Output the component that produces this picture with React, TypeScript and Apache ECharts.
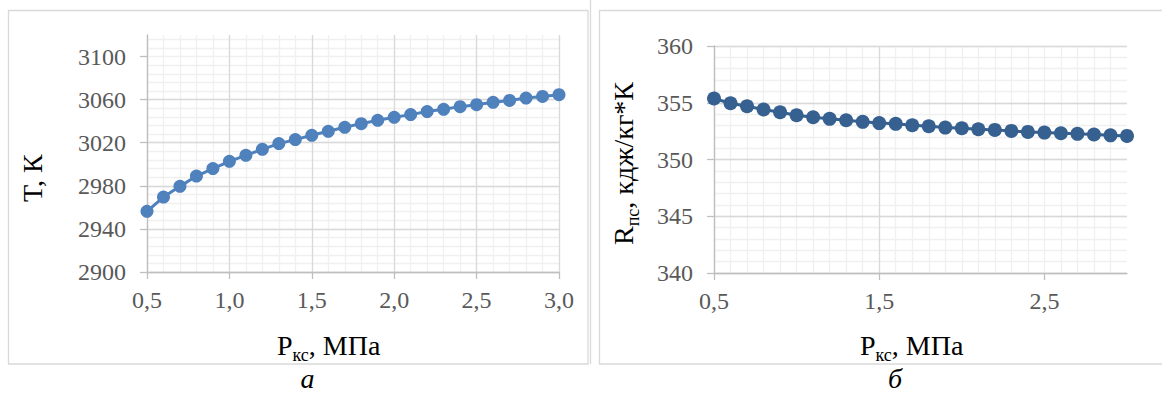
import React, { useEffect, useRef } from "react";
import * as echarts from "echarts";

// ---- data ----
const pressure = [0.5, 0.6, 0.7, 0.8, 0.9, 1.0, 1.1, 1.2, 1.3, 1.4, 1.5, 1.6, 1.7, 1.8, 1.9, 2.0, 2.1, 2.2, 2.3, 2.4, 2.5, 2.6, 2.7, 2.8, 2.9, 3.0];
const temperature = [2956.3, 2969.6, 2979.5, 2989.1, 2996.0, 3002.7, 3008.3, 3013.9, 3019.2, 3022.9, 3026.9, 3030.6, 3034.3, 3037.7, 3040.8, 3043.6, 3046.1, 3048.9, 3051.0, 3053.5, 3055.3, 3057.5, 3059.3, 3061.5, 3063.0, 3064.6];
const gasConstant = [355.37, 354.96, 354.69, 354.40, 354.16, 353.90, 353.72, 353.58, 353.46, 353.32, 353.21, 353.14, 353.02, 352.93, 352.81, 352.75, 352.66, 352.61, 352.52, 352.43, 352.37, 352.31, 352.26, 352.20, 352.13, 352.08];

const tempTicks = [2900, 2940, 2980, 3020, 3060, 3100];
const pressureTicksA = [0.5, 1.0, 1.5, 2.0, 2.5, 3.0];
const pressureTicksB = [0.5, 1.5, 2.5];
const rTicks = [340, 345, 350, 355, 360];

const FONT = "Liberation Serif";
const LABEL_COLOR = "#595959";
const AXIS_COLOR = "#bfbfbf";
const MAJOR_GRID = "#d9d9d9";
const MINOR_GRID = "#f0f0f0";
const TITLE_SIZE = 28;
const SUB_SIZE = 18;
const SUB_SHIFT = 6;
const TICK_SIZE = 24;

const ctx = document.createElement("canvas").getContext("2d") as CanvasRenderingContext2D;
function tw(text: string, size: number, italic = false) {
  ctx.font = `${italic ? "italic " : ""}${size}px "Liberation Serif"`;
  return ctx.measureText(text).width;
}

function titleGroup(parts: { t: string; sub?: boolean }[], x0: number, y0: number, rotation: number) {
  let cx = 0;
  const children = parts.map((p) => {
    const size = p.sub ? SUB_SIZE : TITLE_SIZE;
    const shift = p.sub ? SUB_SHIFT : 0;
    const el = {
      type: "text",
      x: cx,
      y: shift - 0.3375 * size,
      style: {
        text: p.t,
        fontSize: size,
        fontFamily: FONT,
        fill: "#000",
        textAlign: "left",
        textVerticalAlign: "middle",
        align: "left",
        verticalAlign: "middle",
      },
    };
    cx += tw(p.t, size);
    return el;
  });
  return { type: "group", x: x0, y: y0, rotation, children };
}

const fmt = (v: number) => v.toFixed(1).replace(".", ",");

function mainX(gridIndex: number, interval: number, ticks: number[]) {
  return {
    type: "value",
    gridIndex,
    position: "bottom",
    offset: 0,
    min: 0.5,
    max: 3.0,
    interval,
    z: 2,
    axisLine: { show: true, onZero: false, lineStyle: { color: AXIS_COLOR, width: 1.3 } },
    axisTick: { show: true, length: 7, lineStyle: { color: AXIS_COLOR, width: 1.3 }, customValues: ticks },
    axisLabel: {
      color: LABEL_COLOR,
      fontSize: TICK_SIZE,
      fontFamily: FONT,
      margin: 16,
      customValues: ticks,
      formatter: (v: number) => (ticks.some((t) => Math.abs(t - v) < 1e-6) ? fmt(v) : ""),
    },
    splitLine: { show: true, showMaxLine: gridIndex === 0, lineStyle: { color: MAJOR_GRID, width: 1.3 } },
  };
}

function minorAxis(type: "x" | "y", gridIndex: number, min: number, max: number, interval: number, showMax: boolean) {
  return {
    type: "value",
    gridIndex,
    min,
    max,
    interval,
    z: 0,
    position: type === "x" ? "bottom" : "left",
    offset: 0,
    axisLine: { show: false, onZero: false },
    axisTick: { show: false },
    axisLabel: { show: false },
    splitLine: { show: true, showMaxLine: showMax, lineStyle: { color: MINOR_GRID, width: 1.3 } },
  };
}

function mainY(gridIndex: number, min: number, max: number, interval: number, ticks: number[], showMax: boolean) {
  return {
    type: "value",
    gridIndex,
    position: "left",
    offset: 0,
    min,
    max,
    interval,
    z: 2,
    axisLine: { show: true, onZero: false, lineStyle: { color: AXIS_COLOR, width: 1.3 } },
    axisTick: { show: true, length: 7, lineStyle: { color: AXIS_COLOR, width: 1.3 }, customValues: ticks },
    axisLabel: {
      color: LABEL_COLOR,
      fontSize: TICK_SIZE,
      fontFamily: FONT,
      margin: 21,
      customValues: ticks,
      formatter: (v: number) => (ticks.includes(v) ? String(v) : ""),
    },
    splitLine: { show: true, showMaxLine: showMax, lineStyle: { color: MAJOR_GRID, width: 1.3 } },
  };
}

export default function App() {
  const ref = useRef<HTMLDivElement>(null);
  useEffect(() => {
    if (!ref.current) return;
    const chart = echarts.init(ref.current, undefined, { renderer: "svg" });
    const option: any = {
      animation: false,
      backgroundColor: "#fff",
      textStyle: { fontFamily: FONT },
      grid: [
        { left: 147, top: 35, width: 412, height: 237 },
        { left: 714, top: 46, width: 413, height: 227 },
      ],
      xAxis: [
        minorAxis("x", 0, 0.5, 3.0, 0.1, true),
        mainX(0, 0.5, pressureTicksA),
        minorAxis("x", 1, 0.5, 3.0, 0.1, false),
        mainX(1, 1.0, pressureTicksB),
      ],
      yAxis: [
        minorAxis("y", 0, 2900, 3120, 8, false),
        mainY(0, 2900, 3120, 40, tempTicks, false),
        minorAxis("y", 1, 340, 360, 1, true),
        mainY(1, 340, 360, 5, rTicks, true),
      ],
      series: [
        {
          type: "line",
          xAxisIndex: 1,
          yAxisIndex: 1,
          data: pressure.map((p, i) => [p, temperature[i]]),
          symbol: "circle",
          symbolSize: 13,
          itemStyle: { color: "#4f81bd" },
          lineStyle: { color: "#4f81bd", width: 3 },
          z: 5,
        },
        {
          type: "line",
          xAxisIndex: 3,
          yAxisIndex: 3,
          data: pressure.map((p, i) => [p, gasConstant[i]]),
          symbol: "circle",
          symbolSize: 14,
          itemStyle: { color: "#36608f" },
          lineStyle: { color: "#36608f", width: 3 },
          z: 5,
        },
      ],
      graphic: [
        { type: "rect", shape: { x: 8.5, y: 10.5, width: 579.5, height: 353.5 }, style: { fill: "none", stroke: "#d9d9d9", lineWidth: 1.3 }, silent: true },
        { type: "line", shape: { x1: 590.5, y1: 0, x2: 590.5, y2: 364 }, style: { stroke: "#d9d9d9", lineWidth: 1.3 }, silent: true },
        { type: "rect", shape: { x: 599.5, y: 10.5, width: 600, height: 353.5 }, style: { fill: "none", stroke: "#d9d9d9", lineWidth: 1.3 }, silent: true },
        titleGroup([{ t: "T, К" }], 42, 202, Math.PI / 2),
        titleGroup([{ t: "P" }, { t: "кс", sub: true }, { t: ", МПа" }], 277, 355, 0),
        titleGroup([{ t: "R" }, { t: "пс", sub: true }, { t: ", кдж/кг*К" }], 633, 245, Math.PI / 2),
        titleGroup([{ t: "P" }, { t: "кс", sub: true }, { t: ", МПа" }], 860, 355, 0),
        {
          type: "text",
          x: 307.5,
          y: 378.5,
          style: { text: "а", fontSize: 28, fontStyle: "italic", fontFamily: FONT, fill: "#000", textAlign: "center", textVerticalAlign: "middle", align: "center", verticalAlign: "middle" },
        },
        {
          type: "text",
          x: 895,
          y: 378.5,
          style: { text: "б", fontSize: 28, fontStyle: "italic", fontFamily: FONT, fill: "#000", textAlign: "center", textVerticalAlign: "middle", align: "center", verticalAlign: "middle" },
        },
      ],
    };
    chart.setOption(option);
    return () => chart.dispose();
  }, []);
  return <div ref={ref} style={{ position: "fixed", left: 0, top: 0, width: 1162, height: 394 }} />;
}
